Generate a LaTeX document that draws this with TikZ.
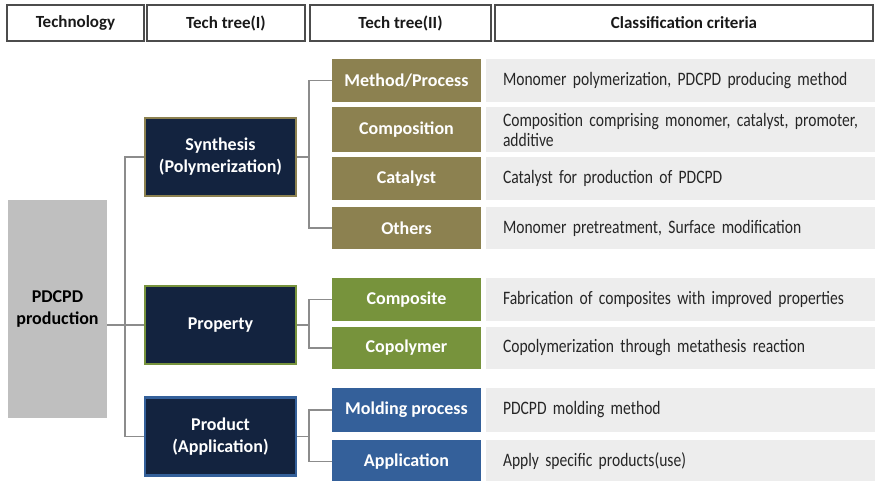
\documentclass[tikz,border=0pt]{standalone}
\usepackage{fontspec}
\setmainfont{Carlito}
\newfontfamily\critfont[FakeStretch=0.82, WordSpace=0.8]{Carlito}
\hyphenpenalty=10000
\definecolor{khaki}{HTML}{8C8150}
\definecolor{leaf}{HTML}{77933C}
\definecolor{steel}{HTML}{34609A}
\definecolor{navy}{HTML}{13233F}
\definecolor{rootgray}{HTML}{BFBFBF}
\definecolor{critgray}{HTML}{EDEDED}
\definecolor{linegray}{HTML}{8C8C8C}
\tikzset{
  headbox/.style={draw=black!70, line width=1.5pt, minimum height=36pt, font=\bfseries\fontsize{17}{20}\selectfont, text=black!90},
  treeOne/.style={fill=navy, line width=2.5pt, minimum width=151pt, minimum height=78pt, align=center, text=white, font=\bfseries\fontsize{18}{22}\selectfont},
  treeTwo/.style={minimum width=149pt, text=white, font=\bfseries\fontsize{18}{21}\selectfont},
  critbox/.style={fill=critgray, text width=355pt, inner xsep=17pt, align=left, text=black!85, font=\critfont\fontsize{19}{20}\selectfont},
  conn/.style={draw=linegray, line width=1.6pt}
}
\begin{document}
\begin{tikzpicture}[x=1pt, y=-1pt]
\useasboundingbox (0,0) rectangle (875,481);
% header row
\node[headbox, minimum width=137pt](hTechnology) at (75.5,23) {Technology};
\node[headbox, minimum width=158pt](hTreeOne) at (226,23) {Tech tree(I)};
\node[headbox, minimum width=181pt](hTreeTwo) at (400.5,23) {Tech tree(II)};
\node[headbox, minimum width=378pt](hCriteria) at (684,23) {Classification criteria};

% technology
\node[fill=rootgray, minimum width=99pt, minimum height=218pt, align=center, font=\bfseries\fontsize{18}{22}\selectfont](pdcpd) at (57.5,309) {PDCPD\\production};

% tech tree (I)
\node[treeOne, draw=khaki](synthesis) at (220.5,157) {Synthesis\\(Polymerization)};
\node[treeOne, draw=leaf](property) at (220.5,325) {Property};
\node[treeOne, draw=steel](product) at (220.5,436.5) {Product\\(Application)};

% tech tree (II)
\node[treeTwo, fill=khaki, minimum height=43pt](method) at (406.5,80.5) {Method/Process};
\node[treeTwo, fill=khaki, minimum height=45pt](composition) at (406.5,129.5) {Composition};
\node[treeTwo, fill=khaki, minimum height=43pt](catalyst) at (406.5,178.5) {Catalyst};
\node[treeTwo, fill=khaki, minimum height=42pt](others) at (406.5,228) {Others};
\node[treeTwo, fill=leaf, minimum height=43pt](composite) at (406.5,299.5) {Composite};
\node[treeTwo, fill=leaf, minimum height=42pt](copolymer) at (406.5,348) {Copolymer};
\node[treeTwo, fill=steel, minimum height=44pt](molding) at (406.5,410) {Molding process};
\node[treeTwo, fill=steel, minimum height=43pt](application) at (406.5,461.5) {Application};

% classification criteria
\node[critbox, minimum height=43pt](cMethod) at (680.5,80.5) {Monomer polymerization, PDCPD producing method};
\node[critbox, minimum height=45pt](cComposition) at (680.5,129.5) {Composition comprising monomer, catalyst, promoter,\\additive};
\node[critbox, minimum height=43pt](cCatalyst) at (680.5,178.5) {Catalyst for production of PDCPD};
\node[critbox, minimum height=42pt](cOthers) at (680.5,228) {Monomer pretreatment, Surface modification};
\node[critbox, minimum height=43pt](cComposite) at (680.5,299.5) {Fabrication of composites with improved properties};
\node[critbox, minimum height=42pt](cCopolymer) at (680.5,348) {Copolymerization through metathesis reaction};
\node[critbox, minimum height=44pt](cMolding) at (680.5,410) {PDCPD molding method};
\node[critbox, minimum height=43pt](cApplication) at (680.5,461.5) {Apply specific products(use)};

% connectors
\coordinate (rootBus) at (125,0);
\coordinate (treeBus) at (309,0);
\draw[conn] (property.west -| pdcpd.east) -- (property.west);
\draw[conn] (synthesis.west) -- (synthesis.west -| rootBus) -- (product.west -| rootBus) -- (product.west);
\draw[conn] (synthesis.east) -- (synthesis.east -| treeBus);
\draw[conn] (method.west) -| (others.west -| treeBus) -- (others.west);
\draw[conn] (property.east) -- (property.east -| treeBus);
\draw[conn] (composite.west) -| (copolymer.west -| treeBus) -- (copolymer.west);
\draw[conn] (product.east) -- (product.east -| treeBus);
\draw[conn] (molding.west) -| (application.west -| treeBus) -- (application.west);
\end{tikzpicture}
\end{document}
